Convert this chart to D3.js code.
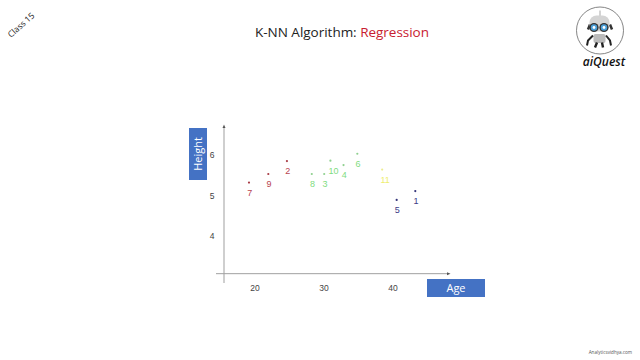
<!DOCTYPE html>
<html>
<head>
<meta charset="utf-8">
<script src="https://cdn.jsdelivr.net/npm/d3@7/dist/d3.min.js"></script>
<style>
  html, body { margin: 0; padding: 0; background: #fff; }
  svg { display: block; }
  text { font-family: "Open Sans", sans-serif; }
  .axis text { font-family: "Liberation Sans", sans-serif; font-size: 8.5px; fill: #444; }
</style>
</head>
<body>
<svg id="svg" width="640" height="360"></svg>
<script>
const labels = ["1", "2", "3", "4", "5", "6", "7", "8", "9", "10", "11"];
const ages = [43.3, 24.7, 30.1, 32.9, 40.6, 34.9, 19.2, 28.3, 22.0, 31.0, 38.5];
const heights = [5.11, 5.85, 5.53, 5.75, 4.89, 6.03, 5.32, 5.53, 5.53, 5.86, 5.64];
const groups = ["blue", "red", "green", "green", "blue", "green", "red", "green", "red", "green", "yellow"];
const xTicks = [20, 30, 40];
const yTicks = [4, 5, 6];

const SVG = d3.select("#svg");
const colors = { red: "#b8434f", green: "#7fdc7f", yellow: "#eeee70", blue: "#3b3b86" };
const dotColors = { red: "#a83a44", green: "#8fd08f", yellow: "#ecec90", blue: "#333378" };

var x = d3.scaleLinear().domain([14.42, 48.33]).range([216, 450]),
  y = d3.scaleLinear().domain([2.84, 6.74]).range([283, 125]);

// axis lines
var xBase = y(3.07),
  yBase = x(15.58);
SVG.append("line")
  .attr("x1", yBase).attr("x2", yBase)
  .attr("y1", 283).attr("y2", 127)
  .attr("stroke", "#b5b5b5").attr("stroke-width", 1.3);
SVG.append("path").attr("d", `M${yBase - 1.5},128 L${yBase},124.5 L${yBase + 1.5},128 Z`).attr("fill", "#555");
SVG.append("line")
  .attr("x1", 216).attr("x2", 448)
  .attr("y1", xBase).attr("y2", xBase)
  .attr("stroke", "#a0a0a0").attr("stroke-width", 1);
SVG.append("path").attr("d", `M447,${xBase - 1.5} L450.5,${xBase} L447,${xBase + 1.5} Z`).attr("fill", "#555");

// tick labels only, the drawn axes have no tick marks
var xAxis = SVG.append("g")
  .attr("class", "axis")
  .attr("transform", "translate(0, 282)")
  .call(d3.axisBottom(x).tickValues(xTicks).tickSize(0).tickFormat(d3.format("d")));
var yAxis = SVG.append("g")
  .attr("class", "axis")
  .attr("transform", "translate(217.5, 0)")
  .call(d3.axisLeft(y).tickValues(yTicks).tickSize(0).tickFormat(d3.format("d")));
SVG.selectAll(".axis .domain").remove();

// points and their numbers
var points = labels.map((d, i) => ({ label: d, age: ages[i], height: heights[i], group: groups[i] }));
SVG.selectAll(".dot")
  .data(points)
  .enter()
  .append("circle")
  .attr("class", "dot")
  .attr("cx", (d) => x(d.age))
  .attr("cy", (d) => y(d.height))
  .attr("r", 1.1)
  .attr("fill", (d) => dotColors[d.group]);
SVG.selectAll(".num")
  .data(points)
  .enter()
  .append("text")
  .attr("class", "num")
  .attr("x", (d) => x(d.age) + (d.label.length > 1 ? 3 : 0.7))
  .attr("y", (d) => y(d.height) + 13)
  .attr("text-anchor", "middle")
  .attr("font-size", 9)
  .style("font-family", "Liberation Sans, sans-serif")
  .attr("fill", (d) => colors[d.group])
  .text((d) => d.label);

// axis name boxes
SVG.append("rect").attr("x", 189).attr("y", 128).attr("width", 18).attr("height", 52).attr("fill", "#4472c4");
SVG.append("text")
  .attr("transform", "translate(202, 154) rotate(-90)")
  .attr("text-anchor", "middle")
  .attr("font-size", 11)
  .attr("fill", "#fff")
  .text("Height");
SVG.append("rect").attr("x", 427).attr("y", 279).attr("width", 58).attr("height", 18).attr("fill", "#4472c4");
SVG.append("text")
  .attr("x", 456).attr("y", 292)
  .attr("text-anchor", "middle")
  .attr("font-size", 11)
  .attr("fill", "#fff")
  .text("Age");

// title
var title = SVG.append("text")
  .attr("x", 255).attr("y", 37)
  .attr("font-size", 13.5)
  .attr("textLength", 174)
  .attr("fill", "#222");
title.append("tspan").text("K-NN Algorithm: ");
title.append("tspan").attr("fill", "#c8202f").text("Regression");

SVG.append("text")
  .attr("transform", "translate(21.5, 25.5) rotate(-42)")
  .attr("text-anchor", "middle")
  .attr("dominant-baseline", "middle")
  .attr("font-size", 8.5)
  .attr("fill", "#222")
  .text("Class 15");

SVG.append("text")
  .attr("x", 632).attr("y", 353.5)
  .attr("text-anchor", "end")
  .attr("font-size", 4.6)
  .attr("fill", "#555")
  .text("Analyticsvidhya.com");

// logo
var logo = SVG.append("g").attr("transform", "translate(600, 30.5)");
logo.append("circle").attr("r", 23.5).attr("fill", "#fff").attr("stroke", "#666").attr("stroke-width", 0.8);
logo.append("rect").attr("x", -0.5).attr("y", -20).attr("width", 1).attr("height", 6).attr("fill", "#aaa");
logo.append("path").attr("d", "M-10,-6 L-12,-1 M10,-6 L12,-1").attr("stroke", "#333").attr("stroke-width", 2.5);
logo.append("rect").attr("x", -10.5).attr("y", -15).attr("width", 20).attr("height", 16).attr("rx", 7).attr("fill", "#d4d4d4");
[-6, 4].forEach((cx) => {
  logo.append("circle").attr("cx", cx).attr("cy", -3).attr("r", 4.6).attr("fill", "#333");
  logo.append("circle").attr("cx", cx).attr("cy", -3).attr("r", 3.2).attr("fill", "#4a9fd8");
  logo.append("circle").attr("cx", cx).attr("cy", -3).attr("r", 1.4).attr("fill", "#fff");
});
logo.append("rect").attr("x", -6.5).attr("y", 3.5).attr("width", 12).attr("height", 9).attr("rx", 2).attr("fill", "#bbb");
logo.append("path").attr("d", "M-7,5 L-12,10 L-13,15 M6,5 L10,10 L11,15").attr("fill", "none").attr("stroke", "#222").attr("stroke-width", 2);
logo.append("path").attr("d", "M-3,12 L-5,17 M2,12 L3,17").attr("fill", "none").attr("stroke", "#222").attr("stroke-width", 2.4);

SVG.append("text")
  .attr("x", 604).attr("y", 66)
  .attr("text-anchor", "middle")
  .attr("font-size", 12)
  .attr("font-weight", 600)
  .attr("font-style", "italic")
  .attr("fill", "#111")
  .text("aiQuest");
</script>
</body>
</html>
